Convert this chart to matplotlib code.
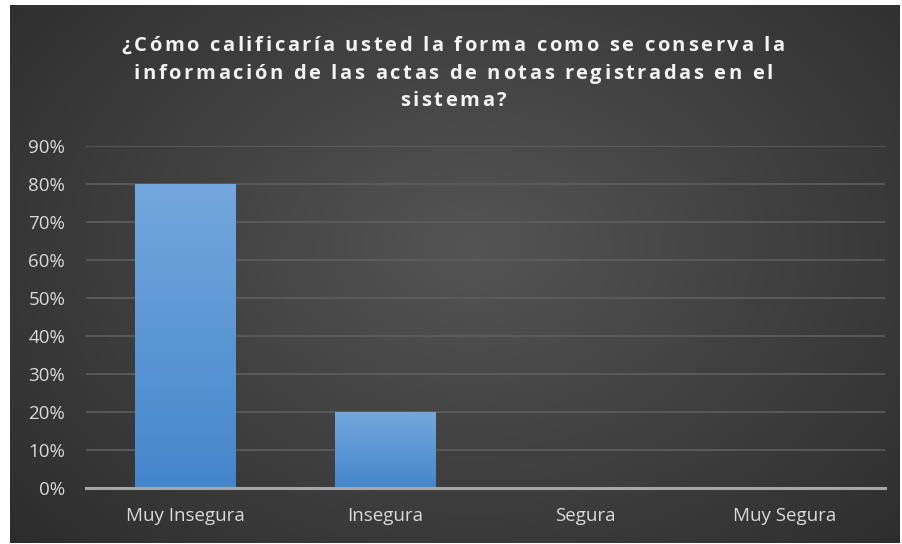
import numpy as np
import matplotlib.pyplot as plt
from matplotlib.ticker import PercentFormatter
from matplotlib.colors import LinearSegmentedColormap

categories = ['Muy Insegura', 'Insegura', 'Segura', 'Muy Segura']
values = [0.80, 0.20, 0.0, 0.0]
title_lines = ['¿Cómo calificaría usted la forma como se conserva la',
               'información de las actas de notas registradas en el',
               'sistema?']

plt.rcParams['font.family'] = ['Open Sans', 'DejaVu Sans']

W, H = 903, 544
fig = plt.figure(figsize=(W / 100, H / 100), dpi=100, facecolor='white')

# dark background with radial gradient
bg = fig.add_axes([10 / W, 1 / H, 890 / W, 538 / H])
yy, xx = np.mgrid[0:1:300j, 0:1:500j]
r = np.sqrt(((xx - 0.52) / 0.75) ** 2 + ((yy - 0.45) / 0.9) ** 2)
shade = np.clip(0.33 - 0.17 * r, 0.14, 0.33)
bg.imshow(np.dstack([shade] * 3), aspect='auto', extent=[0, 1, 0, 1])
bg.axis('off')

ax = fig.add_axes([86 / W, (H - 488) / H, 799 / W, 342 / H])
ax.patch.set_alpha(0)
x = np.arange(len(categories))
bars = ax.bar(x, values, width=0.505, color='#5b9bd5', zorder=3)

# vertical gradient on bars
grad = np.linspace(0, 1, 100).reshape(-1, 1)
cmap = LinearSegmentedColormap.from_list('b', ['#4486cb', '#73a7dd'])
for b in bars:
    if b.get_height() > 0:
        ax.imshow(grad, cmap=cmap, origin='lower', aspect='auto', zorder=3,
                  extent=[b.get_x(), b.get_x() + b.get_width(), 0, b.get_height()])
        b.set_alpha(0)

ax.set_xlim(-0.5, 3.5)
ax.set_ylim(0, 0.9)
ax.set_yticks(np.arange(0, 0.91, 0.1))
ax.yaxis.set_major_formatter(PercentFormatter(1.0, decimals=0))
ax.set_xticks(x)
ax.set_xticklabels(categories)
ax.grid(axis='y', color='#5e5e5e', linewidth=1.2, zorder=0)
for s in ['top', 'right', 'left']:
    ax.spines[s].set_visible(False)
ax.spines['bottom'].set_color('#a6a6a6')
ax.spines['bottom'].set_linewidth(2.2)
ax.spines['bottom'].set_zorder(4)
ax.tick_params(length=0, colors='#d9d9d9', labelsize=13.5)
ax.tick_params(axis='x', pad=14)
ax.tick_params(axis='y', pad=15)

# title with letter spacing, placed char by char
renderer = fig.canvas.get_renderer()
tprops = dict(fontsize=14.5, fontweight='bold', color='#f2f2f2')


def text_w(s):
    t = fig.text(0, 0, s, **tprops)
    w = t.get_window_extent(renderer).width
    t.remove()
    return w


spacing = 2.6
line_y = [46, 74, 101]
for line, yp in zip(title_lines, line_y):
    offs = []
    for i, ch in enumerate(line):
        offs.append(text_w(line[:i + 1]) - text_w(ch) if ch != ' ' else None)
    total = text_w(line) + spacing * (len(line) - 1)
    x0 = 453 - total / 2
    for i, ch in enumerate(line):
        if ch == ' ':
            continue
        xp = x0 + offs[i] + spacing * i
        fig.text(xp / W, 1 - yp / H, ch, ha='left', va='center', **tprops)

fig.savefig('out.png', dpi=100, facecolor='white')
